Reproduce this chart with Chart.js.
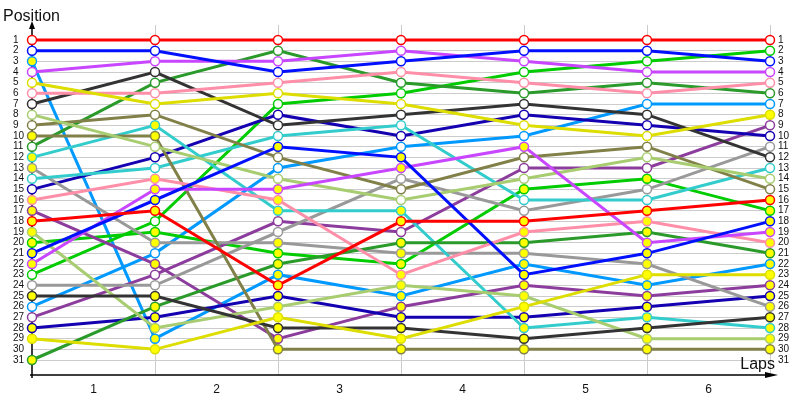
<!DOCTYPE html>
<html>
<head>
<meta charset="utf-8">
<style>
  html, body { margin: 0; padding: 0; background: #fff; }
  #wrap { width: 800px; height: 400px; }
</style>
</head>
<body>
<div id="wrap"><canvas id="chart" width="800" height="400"></canvas></div>
<script src="https://cdn.jsdelivr.net/npm/chart.js@4/dist/chart.umd.min.js"></script>
<script>
// laps on the x axis, lap 0 = start grid
var laps = [0, 1, 2, 3, 4, 5, 6];
var lapLabels = ['1', '2', '3', '4', '5', '6'];
var positions = [];
for (var p = 1; p <= 31; p++) positions.push(p);

// position of every car after each lap
var red1      = [1, 1, 1, 1, 1, 1, 1];
var red18     = [18, 17, 24, 18, 18, 17, 16];
var blue2     = [2, 2, 4, 3, 2, 2, 3];
var blue21    = [21, 16, 11, 12, 23, 21, 18];
var violet4   = [4, 3, 3, 2, 3, 4, 4];
var violet22  = [22, 15, 15, 13, 11, 20, 19];
var yellow5   = [5, 7, 6, 7, 9, 10, 8];
var yellow29  = [29, 30, 27, 29, 26, 23, 23];
var pink6     = [6, 6, 5, 4, 5, 6, 5];
var pink16    = [16, 14, 16, 23, 19, 18, 20];
var dkgray7   = [7, 4, 9, 8, 7, 8, 12];
var dkgray25  = [25, 25, 28, 28, 29, 28, 27];
var ltolive8  = [8, 11, 14, 16, 14, 12, 14];
var ltolive19 = [19, 28, 26, 24, 25, 29, 29];
var olive9    = [9, 8, 12, 15, 12, 11, 15];
var olive10   = [10, 10, 30, 30, 30, 30, 30];
var dkgreen11 = [11, 5, 2, 5, 6, 5, 6];
var dkgreen31 = [31, 26, 22, 20, 20, 19, 21];
var cyan12    = [12, 9, 17, 17, 28, 27, 28];
var cyan14    = [14, 13, 10, 9, 16, 16, 13];
var gray13    = [13, 20, 20, 21, 21, 22, 26];
var gray24    = [24, 24, 19, 14, 17, 15, 11];
var indigo15  = [15, 12, 8, 10, 8, 9, 10];
var indigo28  = [28, 27, 25, 27, 27, 26, 25];
var purple17  = [17, 22, 29, 26, 24, 25, 24];
var purple27  = [27, 23, 18, 19, 13, 13, 9];
var green20   = [20, 19, 21, 22, 15, 14, 17];
var green23   = [23, 18, 7, 6, 4, 3, 2];
var ltblue3   = [3, 29, 23, 25, 22, 24, 22];
var ltblue26  = [26, 21, 13, 11, 10, 7, 7];

// positions marked with a yellow dot, one list per lap
var yellowMarks = [
    [3, 10, 12, 13, 16, 17, 18, 19, 20, 21, 22, 25, 28, 29, 31],
    [9, 10, 14, 15, 16, 17, 19, 20, 22, 25, 26, 27, 28, 29, 30],
    [11, 15, 16, 17, 20, 21, 22, 23, 24, 25, 26, 27, 28, 29, 30],
    [12, 13, 17, 18, 20, 21, 22, 23, 24, 25, 26, 27, 28, 29, 30],
    [11, 15, 18, 19, 20, 21, 22, 23, 24, 25, 26, 27, 28, 29, 30],
    [14, 17, 18, 19, 20, 21, 22, 23, 24, 25, 26, 27, 28, 29, 30],
    [8, 16, 17, 18, 19, 20, 21, 22, 23, 24, 25, 26, 27, 28, 29, 30]
];

var cars = [
    [red1, '#ff0000'], [red18, '#ff0000'],
    [blue2, '#0010ff'], [blue21, '#0010ff'],
    [violet4, '#c846ff'], [violet22, '#c846ff'],
    [yellow5, '#dddd00'], [yellow29, '#dddd00'],
    [pink6, '#ff8fa8'], [pink16, '#ff8fa8'],
    [dkgray7, '#333333'], [dkgray25, '#333333'],
    [ltolive8, '#a8cc70'], [ltolive19, '#a8cc70'],
    [olive9, '#808048'], [olive10, '#808048'],
    [dkgreen11, '#2a9a2a'], [dkgreen31, '#2a9a2a'],
    [cyan12, '#33cccc'], [cyan14, '#33cccc'],
    [gray13, '#999999'], [gray24, '#999999'],
    [indigo15, '#1400b0'], [indigo28, '#1400b0'],
    [purple17, '#8c3c9c'], [purple27, '#8c3c9c'],
    [green20, '#00cc00'], [green23, '#00cc00'],
    [ltblue3, '#0099ff'], [ltblue26, '#0099ff']
];

var datasets = cars.map(function (c) {
    return {
        data: laps.map(function (lap, i) { return {x: lap, y: c[0][i]}; }),
        borderColor: c[1],
        pointBorderColor: c[1],
        pointBackgroundColor: function (ctx) {
            return yellowMarks[ctx.dataIndex].indexOf(ctx.raw.y) >= 0 ? '#ffff00' : '#ffffff';
        },
        borderWidth: 3,
        pointRadius: 4.5,
        pointBorderWidth: 1.5,
        tension: 0,
        clip: false
    };
});

var axisArrows = {
    id: 'axisArrows',
    beforeDatasetsDraw: function (chart) {
        var ctx = chart.ctx, a = chart.chartArea;
        ctx.save();
        ctx.strokeStyle = '#000';
        ctx.fillStyle = '#000';
        ctx.lineWidth = 1.5;
        ctx.beginPath();
        ctx.moveTo(a.left, a.bottom + 3);
        ctx.lineTo(a.left, a.top - 1);
        ctx.moveTo(a.left - 2, a.bottom);
        ctx.lineTo(a.right + 4, a.bottom);
        ctx.stroke();
        // arrow heads
        ctx.beginPath();
        ctx.moveTo(a.left, a.top - 4);
        ctx.lineTo(a.left - 3, a.top + 4);
        ctx.lineTo(a.left + 3, a.top + 4);
        ctx.closePath();
        ctx.fill();
        ctx.beginPath();
        ctx.moveTo(a.right + 8, a.bottom);
        ctx.lineTo(a.right - 5, a.bottom - 3);
        ctx.lineTo(a.right - 5, a.bottom + 3);
        ctx.closePath();
        ctx.fill();
        ctx.restore();
    },
    afterDraw: function (chart) {
        var ctx = chart.ctx, a = chart.chartArea;
        ctx.save();
        ctx.fillStyle = '#111';
        ctx.font = '16px "Liberation Sans", Arial, sans-serif';
        ctx.textBaseline = 'alphabetic';
        ctx.textAlign = 'left';
        ctx.fillText('Position', 3, 21);
        ctx.textAlign = 'right';
        ctx.fillText('Laps', a.right + 5, a.bottom - 6);
        ctx.restore();
    }
};

var tickFont = {family: '"Liberation Sans", Arial, sans-serif', size: 10};

new Chart(document.getElementById('chart').getContext('2d'), {
    type: 'line',
    data: {datasets: datasets},
    plugins: [axisArrows],
    options: {
        responsive: false,
        animation: false,
        layout: {padding: {top: 25, left: 13, right: 0, bottom: 0}},
        plugins: {legend: {display: false}, tooltip: {enabled: false}},
        scales: {
            x: {
                type: 'linear', position: 'bottom', min: 0, max: 6,
                ticks: {display: false, stepSize: 1},
                grid: {
                    color: function (ctx) { return ctx.tick && ctx.tick.value === 0 ? 'rgba(0,0,0,0)' : '#cccccc'; },
                    drawTicks: false
                },
                border: {display: false},
                afterFit: function (s) { s.height = 0; }
            },
            xl: {
                type: 'linear', position: 'bottom', min: 0, max: 6,
                afterBuildTicks: function (s) {
                    s.ticks = lapLabels.map(function (l, i) { return {value: i + 0.5}; });
                },
                ticks: {
                    color: '#111', padding: 7, autoSkip: false,
                    font: {family: '"Liberation Sans", Arial, sans-serif', size: 12},
                    callback: function (v, i) { return lapLabels[i]; }
                },
                grid: {display: false, drawTicks: false},
                border: {display: false},
                afterFit: function (s) { s.height = 25; }
            },
            y: {
                type: 'linear', position: 'left', reverse: true, min: -0.40625, max: 32.40625,
                afterBuildTicks: function (s) {
                    s.ticks = positions.map(function (v) { return {value: v}; });
                },
                ticks: {color: '#111', font: tickFont, crossAlign: 'far', padding: 0, autoSkip: false,
                    callback: function (v) { return String(v); }},
                grid: {color: '#cccccc', drawTicks: false},
                border: {display: false},
                afterFit: function (s) { s.width = 19; }
            },
            y2: {
                type: 'linear', position: 'right', reverse: true, min: -0.40625, max: 32.40625,
                afterBuildTicks: function (s) {
                    s.ticks = positions.map(function (v) { return {value: v}; });
                },
                ticks: {color: '#111', font: tickFont, padding: 8, autoSkip: false,
                    callback: function (v) { return String(v); }},
                grid: {display: false, drawTicks: false},
                border: {display: false},
                afterFit: function (s) { s.width = 30; }
            }
        }
    }
});
</script>
</body>
</html>
